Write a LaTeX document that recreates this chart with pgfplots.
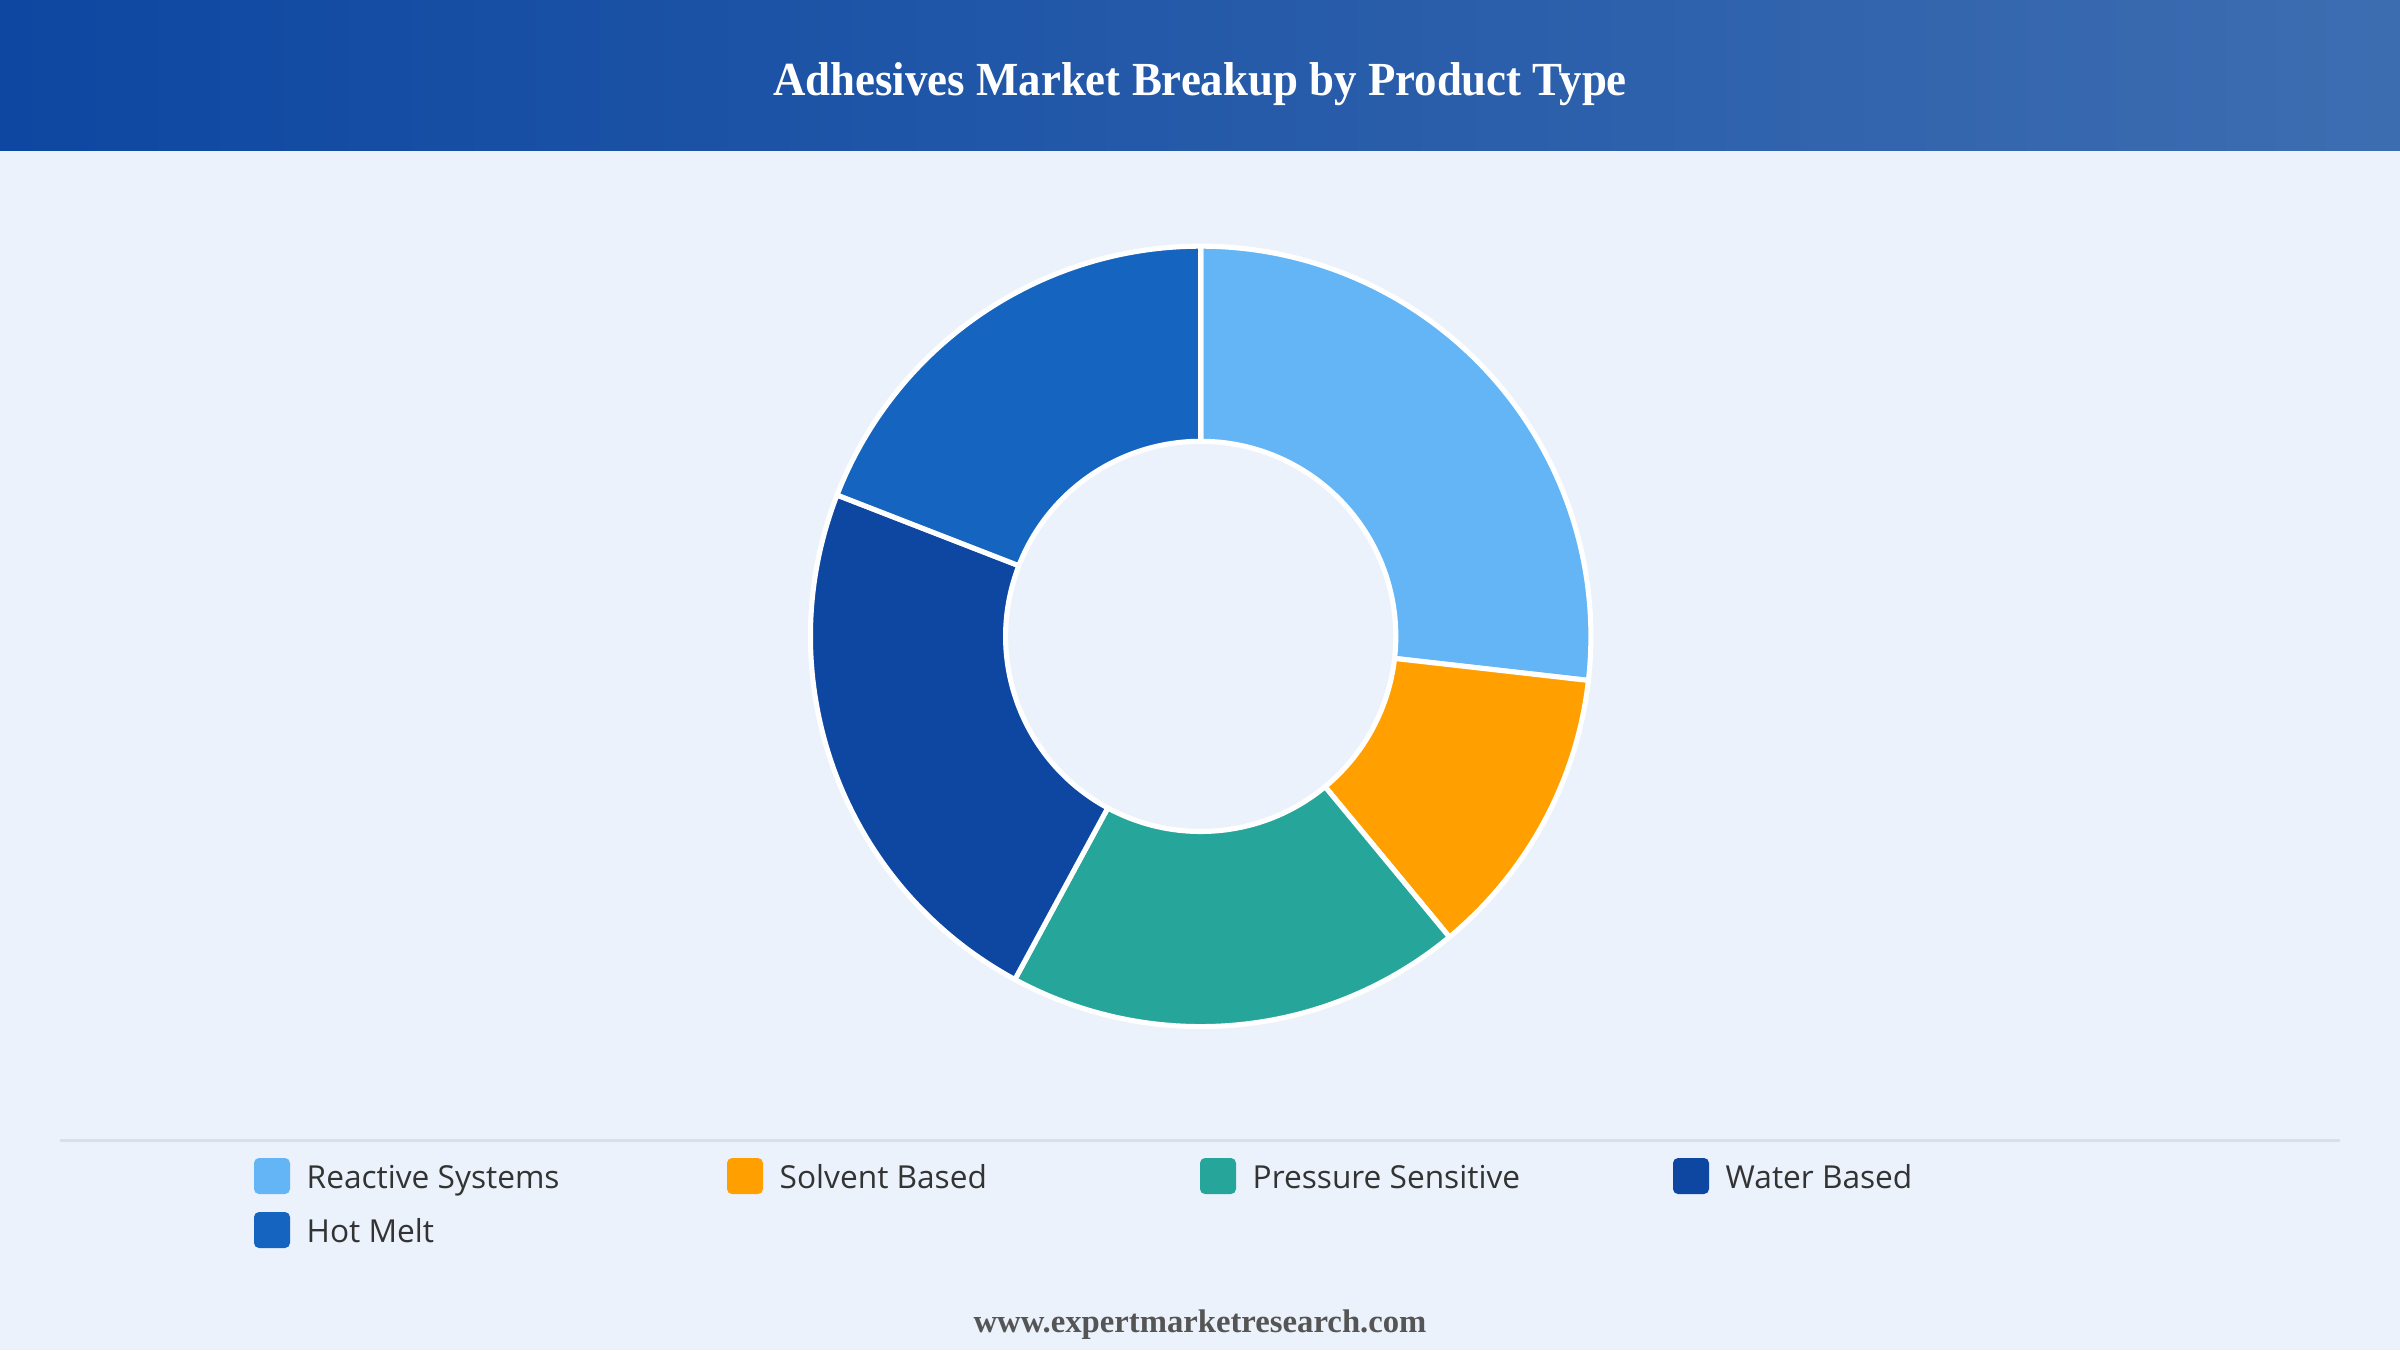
\documentclass[border=0pt]{standalone}
\usepackage{pgfplots}
\pgfplotsset{compat=1.18}
\usepackage{graphicx}
\usepackage{fontspec}
\setmainfont{Liberation Serif}
\newfontfamily\legendfont{Open Sans}
\definecolor{bg}{RGB}{235,242,252}
\definecolor{hdrL}{RGB}{13,71,161}
\definecolor{hdrR}{RGB}{61,109,177}
\definecolor{cReactive}{HTML}{64B5F6}
\definecolor{cSolvent}{HTML}{FFA000}
\definecolor{cPressure}{HTML}{26A69A}
\definecolor{cWater}{HTML}{0D47A1}
\definecolor{cHot}{HTML}{1565C0}
\definecolor{legtext}{RGB}{51,51,51}
\definecolor{foot}{RGB}{85,85,85}
\definecolor{sep}{RGB}{219,222,227}

% donut slice: value (percent), colour; slices run clockwise from 12 o'clock
\def\cum{0}
\newcommand{\slice}[2]{%
  \pgfmathsetmacro\sa{90-\cum*3.6}%
  \pgfmathsetmacro\newcum{\cum+#1}%
  \pgfmathsetmacro\ea{90-\newcum*3.6}%
  \xdef\cum{\newcum}%
  \edef\doslice{\noexpand\fill[fill=#2, draw=white, line width=1.45pt, line join=round]
    (axis cs:{0.5*cos(\sa)},{0.5*sin(\sa)}) -- (axis cs:{cos(\sa)},{sin(\sa)})
    arc[start angle=\sa, end angle=\ea, radius=3.9cm]
    -- (axis cs:{0.5*cos(\ea)},{0.5*sin(\ea)})
    arc[start angle=\ea, end angle=\sa, radius=1.95cm] -- cycle;}%
  \doslice
}

\begin{document}
\begin{tikzpicture}[x=0.01cm,y=-0.01cm]
\useasboundingbox (0,0) rectangle (2400,1350);
\fill[bg] (0,0) rectangle (2400,1350);
\shade[left color=hdrL, right color=hdrR] (0,0) rectangle (2400,150);
\node[anchor=base, text=white, inner sep=0, font=\fontsize{13.5}{16}\selectfont\bfseries] at (1200,95) {\scalebox{0.945}[1]{Adhesives Market Breakup by Product Type}};

\begin{axis}[at={(12cm,-6.36cm)}, anchor=origin, hide axis, x=3.9cm, y=3.9cm,
  xmin=-1.1, xmax=1.1, ymin=-1.1, ymax=1.1, clip=false]
  \slice{26.8}{cReactive}
  \slice{12.2}{cSolvent}
  \slice{18.9}{cPressure}
  \slice{23.0}{cWater}
  \slice{19.1}{cHot}
\end{axis}

\fill[sep] (60,1138.5) rectangle (2340,1141.5);

\tikzset{legtxt/.style={anchor=base west, inner sep=0, text=legtext, font=\legendfont\fontsize{9}{11}\selectfont}}
\fill[cReactive, rounded corners=0.05cm] (254,1158) rectangle (290,1194);
\node[legtxt] at (306,1188) {Reactive Systems};
\fill[cSolvent, rounded corners=0.05cm] (727,1158) rectangle (763,1194);
\node[legtxt] at (779,1188) {Solvent Based};
\fill[cPressure, rounded corners=0.05cm] (1200,1158) rectangle (1236,1194);
\node[legtxt] at (1252,1188) {Pressure Sensitive};
\fill[cWater, rounded corners=0.05cm] (1673,1158) rectangle (1709,1194);
\node[legtxt] at (1725,1188) {Water Based};
\fill[cHot, rounded corners=0.05cm] (254,1212) rectangle (290,1248);
\node[legtxt] at (306,1242) {Hot Melt};

\node[anchor=base, inner sep=0, text=foot, font=\fontsize{9.3}{11}\selectfont\bfseries] at (1200,1332) {www.expertmarketresearch.com};
\end{tikzpicture}
\end{document}
